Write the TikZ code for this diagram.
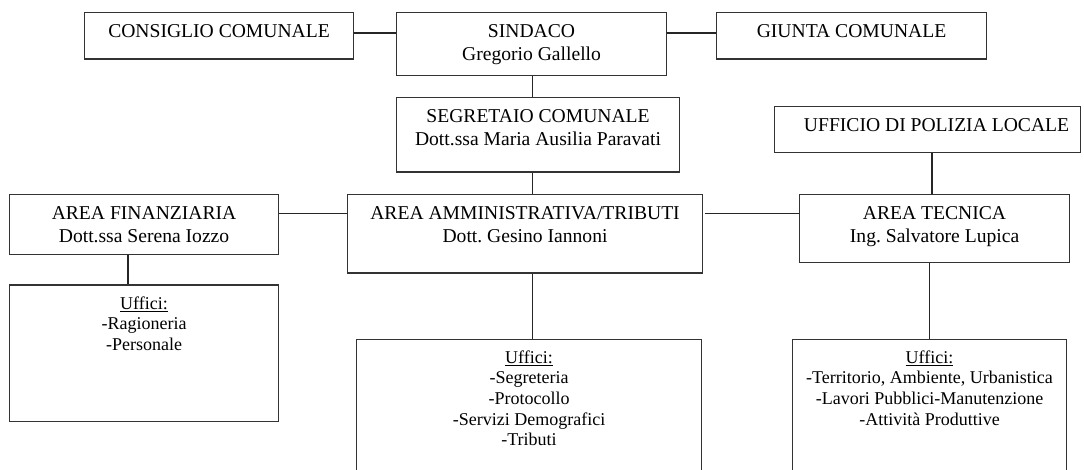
\documentclass[tikz,border=0pt]{standalone}
\usepackage{fontspec}
\setmainfont{Liberation Serif}
\frenchspacing
\begin{document}
\begin{tikzpicture}[x=1pt,y=-1pt,
  box/.style={draw=black!80, line width=1.1pt, anchor=north west, inner sep=0pt, fill=none},
  conn/.style={draw=black!85, line width=1.5pt},
  head/.style={anchor=north, inner sep=0pt, align=center, font=\fontsize{19.6}{23}\selectfont},
  list/.style={anchor=north, inner sep=0pt, align=center, font=\fontsize{18}{20.7}\selectfont}]
\clip (0,0) rectangle (1084,470);
\fill[white] (0,0) rectangle (1084,470);
% boxes
\node[box, minimum width=269pt, minimum height=46.5pt] (cons) at (84,12) {};
\node[box, minimum width=270pt, minimum height=63pt] (sind) at (396,12) {};
\node[box, minimum width=270pt, minimum height=46.5pt] (giunta) at (716,12) {};
\node[box, minimum width=283pt, minimum height=74.5pt] (segr) at (396,97) {};
\node[box, minimum width=306pt, minimum height=46pt] (poliz) at (774,106) {};
\node[box, minimum width=269pt, minimum height=60pt] (fin) at (9,194) {};
\node[box, minimum width=355pt, minimum height=78.5pt] (amm) at (347,194) {};
\node[box, minimum width=270pt, minimum height=68pt] (tec) at (799,194) {};
\node[box, minimum width=269pt, minimum height=136.5pt] (ufin) at (9,284.5) {};
\node[box, minimum width=345pt, minimum height=150pt] (uamm) at (356,338.5) {};
\node[box, minimum width=274pt, minimum height=150pt] (utec) at (792,338.5) {};
% texts
\node[head] (consT) at ([yshift=-9.4pt]cons.north) {\strut CONSIGLIO COMUNALE};
\node[head] (sindT) at ([yshift=-9.4pt]sind.north) {\strut SINDACO\\Gregorio Gallello};
\node[head] (giuntaT) at ([yshift=-9.4pt]giunta.north) {\strut GIUNTA COMUNALE};
\node[head] (segrT) at ([yshift=-9.4pt]segr.north) {\strut SEGRETAIO COMUNALE\\Dott.ssa Maria Ausilia Paravati};
\node[head] (polizT) at ([xshift=9pt,yshift=-9.4pt]poliz.north) {\strut UFFICIO DI POLIZIA LOCALE};
\node[head] (finT) at ([yshift=-9.4pt]fin.north) {\strut AREA FINANZIARIA\\Dott.ssa Serena Iozzo};
\node[head] (ammT) at ([yshift=-9.4pt]amm.north) {\strut AREA AMMINISTRATIVA/TRIBUTI\\Dott. Gesino Iannoni};
\node[head] (tecT) at ([yshift=-9.4pt]tec.north) {\strut AREA TECNICA\\Ing. Salvatore Lupica};
\node[list] (ufinT) at ([yshift=-10pt]ufin.north) {\strut\underline{Uffici:}\\-Ragioneria\\-Personale};
\node[list] (uammT) at ([yshift=-10pt]uamm.north) {\strut\underline{Uffici:}\\-Segreteria\\-Protocollo\\-Servizi Demografici\\-Tributi};
\node[list] (utecT) at ([yshift=-10pt]utec.north) {\strut\underline{Uffici:}\\-Territorio, Ambiente, Urbanistica\\-Lavori Pubblici-Manutenzione\\-Attività Produttive};
% reference coordinates for connector lines
\coordinate (r1) at (0,33);
\coordinate (r2) at (0,213.5);
\coordinate (cx) at (532.5,0);
\coordinate (fx) at (128,0);
\coordinate (px) at (932,0);
\coordinate (tx) at (929.5,0);
% connectors
\draw[conn] (cons.east |- r1) -- (sind.west |- r1);
\draw[conn] (sind.east |- r1) -- (giunta.west |- r1);
\draw[conn] (sind.south -| cx) -- (segr.north -| cx);
\draw[conn] (segr.south -| cx) -- (amm.north -| cx);
\draw[conn] (amm.south -| cx) -- (uamm.north -| cx);
\draw[conn] (fin.east |- r2) -- (amm.west |- r2);
\draw[conn] ([xshift=2pt]amm.east |- r2) -- (tec.west |- r2);
\draw[conn] (fin.south -| fx) -- (ufin.north -| fx);
\draw[conn] (poliz.south -| px) -- (tec.north -| px);
\draw[conn] (tec.south -| tx) -- (utec.north -| tx);
\end{tikzpicture}
\end{document}
